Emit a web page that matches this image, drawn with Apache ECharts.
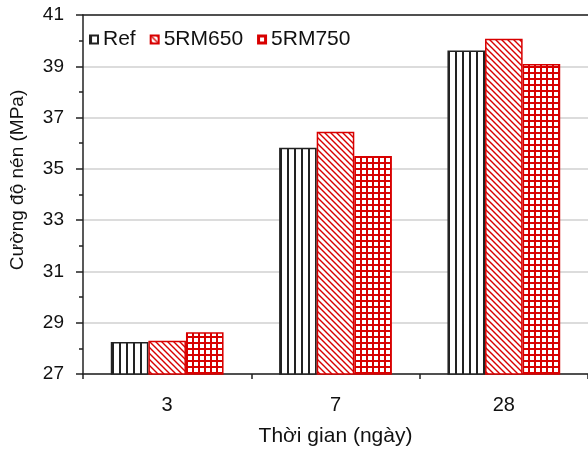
<!DOCTYPE html>
<html lang="vi">
<head>
    <meta charset="UTF-8">
    <title>Cường độ nén</title>
    <script src="https://cdn.jsdelivr.net/npm/echarts@6/dist/echarts.min.js"></script>
    <style>
        html, body { margin: 0; padding: 0; background: #fff; }
        #main { width: 588px; height: 452px; }
    </style>
</head>
<body>
<div id="main"></div>
<script>
    // số liệu
    var categories = ['3', '7', '28'];
    var seriesNames = ['Ref', '5RM650', '5RM750'];
    var refValues = [28.25, 35.82, 39.62];
    var rm650Values = [28.30, 36.45, 40.07];
    var rm750Values = [28.63, 35.50, 39.09];
    var yMin = 27, yMax = 41;
    var yLabelTicks = [27, 29, 31, 33, 35, 37, 39, 41];

    var red = '#d80000';
    var dark = '#222';
    var font = '"Liberation Sans", Arial, sans-serif';

    // vạch đứng đen
    function patternVertical() {
        var c = document.createElement('canvas');
        c.width = 7; c.height = 8;
        var ctx = c.getContext('2d');
        ctx.fillStyle = '#fff';
        ctx.fillRect(0, 0, 7, 8);
        ctx.fillStyle = dark;
        ctx.fillRect(0, 0, 2, 8);
        return c;
    }
    // gạch chéo đỏ
    function patternDiagonal() {
        var s = 6;
        var c = document.createElement('canvas');
        c.width = s; c.height = s;
        var ctx = c.getContext('2d');
        ctx.fillStyle = '#fff';
        ctx.fillRect(0, 0, s, s);
        ctx.strokeStyle = red;
        ctx.lineWidth = 1.4;
        ctx.beginPath();
        ctx.moveTo(-1, -1); ctx.lineTo(s + 1, s + 1);
        ctx.moveTo(-1, s - 1); ctx.lineTo(1, s + 1);
        ctx.moveTo(s - 1, -1); ctx.lineTo(s + 1, 1);
        ctx.stroke();
        return c;
    }
    // lưới ô vuông đỏ
    function patternGrid() {
        var s = 6;
        var c = document.createElement('canvas');
        c.width = s; c.height = s;
        var ctx = c.getContext('2d');
        ctx.fillStyle = '#fff';
        ctx.fillRect(0, 0, s, s);
        ctx.fillStyle = red;
        ctx.fillRect(0, 0, s, 2);
        ctx.fillRect(0, 0, 2, s);
        return c;
    }

    var chartDom = document.getElementById('main');
    var myChart = echarts.init(chartDom, null, { renderer: 'canvas' });
    var option;

    option = {
        animation: false,
        backgroundColor: '#fff',
        textStyle: { fontFamily: font, color: '#111' },
        grid: { left: 80, right: 0, top: 15, bottom: 75 },
        legend: {
            left: 84,
            top: 24,
            itemWidth: 8,
            itemHeight: 8,
            itemGap: 14,
            icon: 'rect',
            textStyle: { fontFamily: font, fontSize: 21, color: '#111' },
            data: seriesNames
        },
        xAxis: [
            {
                type: 'category',
                data: categories,
                name: 'Thời gian (ngày)',
                nameLocation: 'middle',
                nameGap: 52,
                nameTextStyle: { fontFamily: font, fontSize: 21, color: '#111' },
                axisLine: { lineStyle: { color: dark, width: 1.5 } },
                axisTick: { show: true, length: 5, lineStyle: { color: dark, width: 1.5 } },
                axisLabel: { fontFamily: font, fontSize: 20, color: '#111', margin: 21 },
                splitLine: { show: false }
            },
            {
                type: 'category',
                data: categories,
                position: 'top',
                axisLine: { lineStyle: { color: dark, width: 1.5 } },
                axisTick: { show: false },
                axisLabel: { show: false },
                splitLine: { show: false }
            }
        ],
        yAxis: [
            {
                type: 'value',
                min: yMin,
                max: yMax,
                interval: 1,
                name: 'Cường độ nén (MPa)',
                nameLocation: 'middle',
                nameGap: 56,
                nameTextStyle: { fontFamily: font, fontSize: 19, color: '#111', padding: [0, 0, 0, 29] },
                axisLine: { show: true, lineStyle: { color: dark, width: 1.5 } },
                axisTick: { show: true, length: 7, customValues: yLabelTicks, lineStyle: { color: dark, width: 1.5 } },
                axisLabel: { fontFamily: font, fontSize: 19, color: '#111', margin: 19, customValues: yLabelTicks },
                splitLine: { show: true, lineStyle: { color: '#d0d0d0', width: 1.5 } }
            },
            {
                type: 'value',
                min: yMin,
                max: yMax,
                interval: 1,
                position: 'left',
                axisLine: { show: false },
                axisTick: { show: true, length: 4, lineStyle: { color: dark, width: 1.5 } },
                axisLabel: { show: false },
                splitLine: { show: false }
            }
        ],
        series: [
            {
                name: seriesNames[0],
                type: 'bar',
                data: refValues,
                barGap: '0%',
                barCategoryGap: '33%',
                itemStyle: {
                    color: { image: patternVertical(), repeat: 'repeat' },
                    borderColor: dark,
                    borderWidth: 1.5
                }
            },
            {
                name: seriesNames[1],
                type: 'bar',
                data: rm650Values,
                barGap: '0%',
                barCategoryGap: '33%',
                itemStyle: {
                    color: { image: patternDiagonal(), repeat: 'repeat' },
                    borderColor: red,
                    borderWidth: 1.5
                }
            },
            {
                name: seriesNames[2],
                type: 'bar',
                data: rm750Values,
                barGap: '0%',
                barCategoryGap: '33%',
                itemStyle: {
                    color: { image: patternGrid(), repeat: 'repeat' },
                    borderColor: red,
                    borderWidth: 1.5
                }
            }
        ]
    };
    option && myChart.setOption(option);
</script>
</body>
</html>
